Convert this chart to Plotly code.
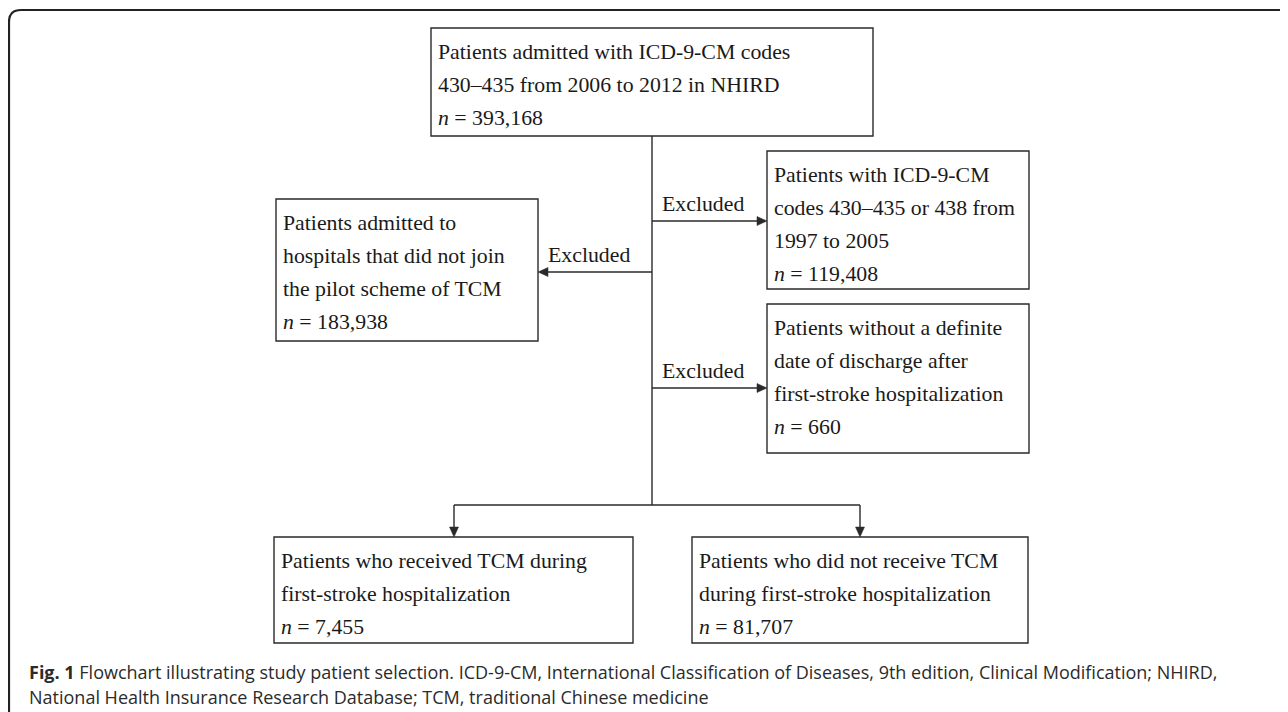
import plotly.graph_objects as go

# ---------------- data ----------------
box_lines = [
    ["Patients admitted with ICD-9-CM codes", "430\u2013435 from 2006 to 2012 in NHIRD"],
    ["Patients admitted to", "hospitals that did not join", "the pilot scheme of TCM"],
    ["Patients with ICD-9-CM", "codes 430\u2013435 or 438 from", "1997 to 2005"],
    ["Patients without a definite", "date of discharge after", "first-stroke hospitalization"],
    ["Patients who received TCM during", "first-stroke hospitalization"],
    ["Patients who did not receive TCM", "during first-stroke hospitalization"],
]
box_counts = [393168, 183938, 119408, 660, 7455, 81707]
edge_label = "Excluded"
excluded_boxes = [1, 2, 3]
caption_bold = "Fig. 1"
caption_lines = [
    "Flowchart illustrating study patient selection. ICD-9-CM, International Classification of Diseases, 9th edition, Clinical Modification; NHIRD,",
    "National Health Insurance Research Database; TCM, traditional Chinese medicine",
]

# ---------------- layout (page pixel positions) ----------------
PAGE_W, PAGE_H = 1288, 712
OFF = 8  # default body margin of the html page
BOX_X0 = [431, 276, 767, 767, 274, 692]
BOX_X1 = [873, 538, 1029, 1029, 633, 1028]
BOX_Y0 = [28, 199, 151, 304, 537, 537]
BOX_Y1 = [136, 341, 289, 453, 643, 643]
FIRST_OFF = 24
LINE_GAP = 33
TRUNK_X = 652
EXC_Y = {1: 272, 2: 221, 3: 388}
BRANCH_Y = 505
BRANCH_X = [454, 860]
SERIF = "Liberation Serif, Times New Roman, serif"
SANS = "Open Sans, sans-serif"
INK = "#1a1a1a"
LINE_C = "#2a2a2a"

fig = go.Figure()
shapes = []
annotations = []

# outer frame (rounded top-left corner)
shapes.append(dict(type="path", path=f"M 9 {PAGE_H+5} L 9 22 Q 9 10 21 10 L {PAGE_W+5} 10",
                   line=dict(color="#222", width=2.2), xref="x", yref="y"))

# boxes and texts
for i, lines in enumerate(box_lines):
    shapes.append(dict(type="rect", x0=BOX_X0[i], x1=BOX_X1[i], y0=BOX_Y0[i], y1=BOX_Y1[i],
                       line=dict(color=LINE_C, width=1.4), xref="x", yref="y"))
    all_lines = lines + [f"<i>n</i> = {box_counts[i]:,}"]
    for k, t in enumerate(all_lines):
        annotations.append(dict(x=BOX_X0[i] + 5, y=BOX_Y0[i] + FIRST_OFF + k * LINE_GAP,
                                text=t, showarrow=False, xanchor="left", yanchor="middle",
                                font=dict(family=SERIF, size=21.8, color=INK), xref="x", yref="y"))


def arrow_head(tx, ty, direction, L=10, hw=4.5):
    if direction == "left":
        p = f"M {tx} {ty} L {tx+L} {ty-hw} L {tx+L} {ty+hw} Z"
    elif direction == "right":
        p = f"M {tx} {ty} L {tx-L} {ty-hw} L {tx-L} {ty+hw} Z"
    else:  # down
        p = f"M {tx} {ty} L {tx-hw} {ty-L} L {tx+hw} {ty-L} Z"
    return dict(type="path", path=p, fillcolor=LINE_C, line=dict(color=LINE_C, width=0.5),
                xref="x", yref="y")


def seg(x0, y0, x1, y1):
    return dict(type="line", x0=x0, y0=y0, x1=x1, y1=y1,
                line=dict(color=LINE_C, width=1.4), xref="x", yref="y")


# trunk
shapes.append(seg(TRUNK_X, BOX_Y1[0], TRUNK_X, BRANCH_Y))

# exclusion arrows
for b in excluded_boxes:
    y = EXC_Y[b]
    if BOX_X1[b] < TRUNK_X:
        tip = BOX_X1[b]
        shapes.append(seg(TRUNK_X, y, tip + 9, y))
        shapes.append(arrow_head(tip, y, "left"))
        lx = tip + 8
    else:
        tip = BOX_X0[b]
        shapes.append(seg(TRUNK_X, y, tip - 9, y))
        shapes.append(arrow_head(tip, y, "right"))
        lx = TRUNK_X + 8
    annotations.append(dict(x=lx, y=y - 17, text=edge_label, showarrow=False,
                            xanchor="left", yanchor="middle",
                            font=dict(family=SERIF, size=21.8, color=INK), xref="x", yref="y"))

# branch to final groups
shapes.append(seg(BRANCH_X[0], BRANCH_Y, BRANCH_X[1], BRANCH_Y))
for bx, bi in zip(BRANCH_X, [4, 5]):
    shapes.append(seg(bx, BRANCH_Y, bx, BOX_Y0[bi] - 9))
    shapes.append(arrow_head(bx, BOX_Y0[bi], "down"))

# caption
annotations.append(dict(x=27, y=672, text=f"<b>{caption_bold}</b> {caption_lines[0]}", showarrow=False,
                        xanchor="left", yanchor="middle",
                        font=dict(family=SANS, size=18, color="#2b2b2b"),
                        xref="x", yref="y"))
annotations.append(dict(x=27, y=697, text=caption_lines[1], showarrow=False,
                        xanchor="left", yanchor="middle",
                        font=dict(family=SANS, size=18, color="#2b2b2b"),
                        xref="x", yref="y"))

fig.update_layout(
    width=PAGE_W - OFF, height=PAGE_H - OFF, margin=dict(l=0, r=0, t=0, b=0),
    paper_bgcolor="white", plot_bgcolor="white",
    xaxis=dict(range=[OFF, PAGE_W], visible=False, fixedrange=True),
    yaxis=dict(range=[PAGE_H, OFF], visible=False, fixedrange=True),
    shapes=shapes, annotations=annotations, showlegend=False,
)
fig.write_html("out.html", config={"displayModeBar": False})
